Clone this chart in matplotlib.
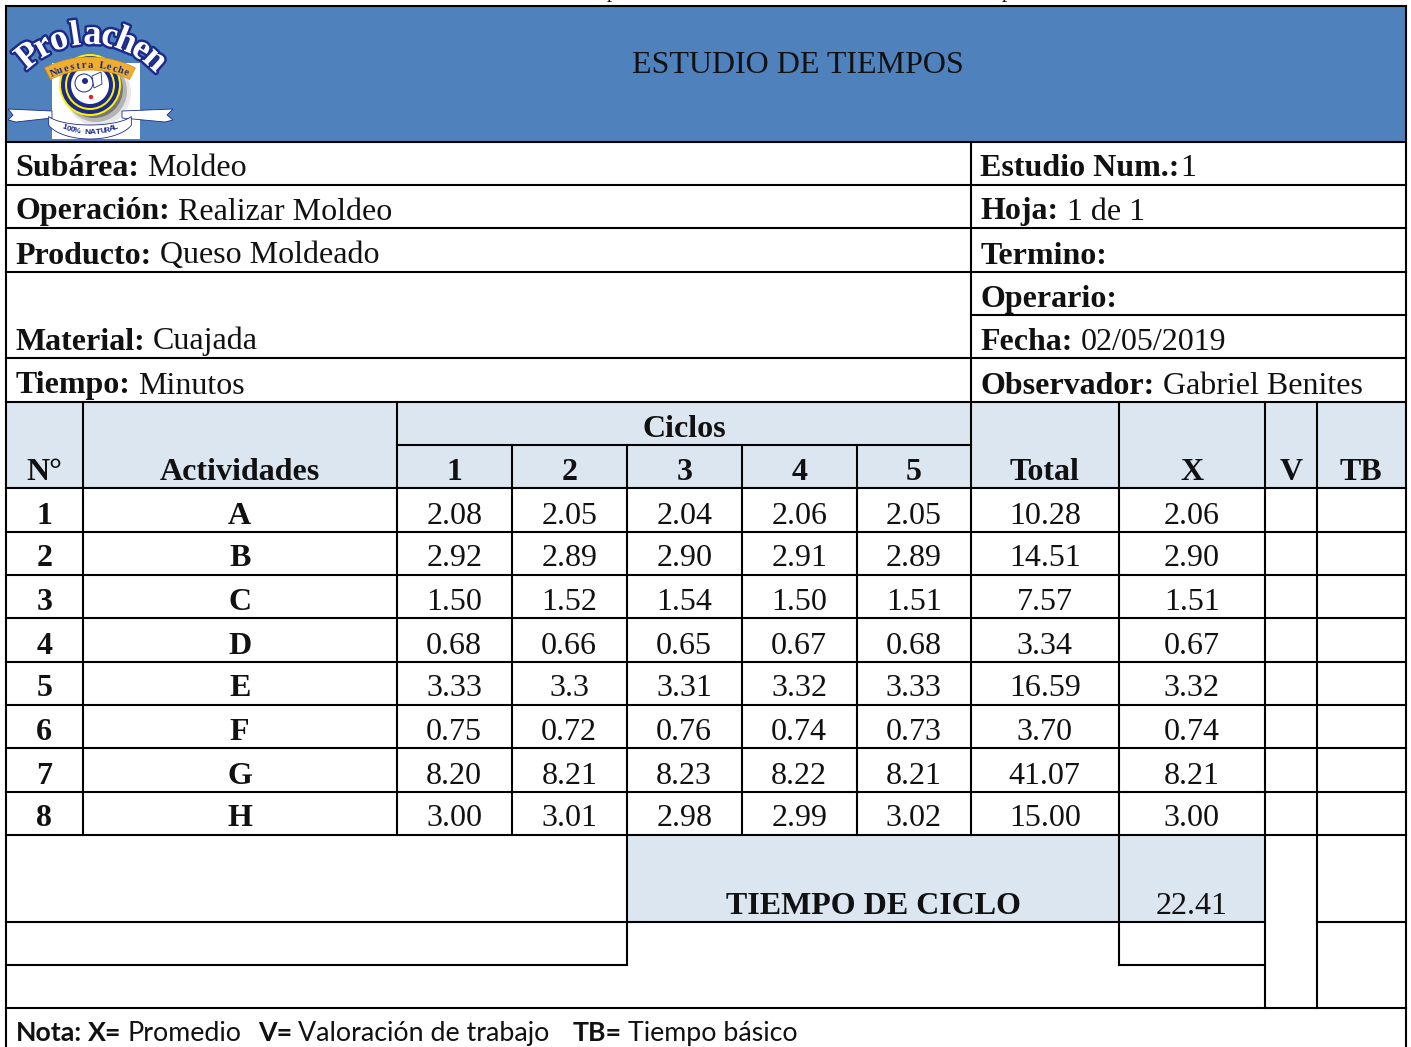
# import
import matplotlib
matplotlib.use('Agg')
import matplotlib.pyplot as plt
import matplotlib.patheffects as pe
from matplotlib.patches import Rectangle, Circle, Polygon
import numpy as np

# data
left_info = [('Subárea:', 'Moldeo'), ('Operación:', 'Realizar Moldeo'),
             ('Producto:', 'Queso Moldeado'), ('', ''),
             ('Material:', 'Cuajada'), ('Tiempo:', 'Minutos')]
right_info = [('Estudio Num.:', '1'), ('Hoja:', '1 de 1'), ('Termino:', ''),
              ('Operario:', ''), ('Fecha:', '02/05/2019'),
              ('Observador:', 'Gabriel Benites')]
row_no = ['1', '2', '3', '4', '5', '6', '7', '8']
activities = ['A', 'B', 'C', 'D', 'E', 'F', 'G', 'H']
cycle_1 = ['2.08', '2.92', '1.50', '0.68', '3.33', '0.75', '8.20', '3.00']
cycle_2 = ['2.05', '2.89', '1.52', '0.66', '3.3', '0.72', '8.21', '3.01']
cycle_3 = ['2.04', '2.90', '1.54', '0.65', '3.31', '0.76', '8.23', '2.98']
cycle_4 = ['2.06', '2.91', '1.50', '0.67', '3.32', '0.74', '8.22', '2.99']
cycle_5 = ['2.05', '2.89', '1.51', '0.68', '3.33', '0.73', '8.21', '3.02']
totals = ['10.28', '14.51', '7.57', '3.34', '16.59', '3.70', '41.07', '15.00']
means = ['2.06', '2.90', '1.51', '0.67', '3.32', '0.74', '8.21', '3.00']
cycle_time = '22.41'

# layout in pixels
W, H = 1411, 1047
col_x = [6, 83, 397, 512, 627, 742, 857, 971, 1119, 1265, 1317, 1406]
row_y = [142, 185, 228, 272, 315, 358, 402, 445, 488, 532, 575, 618, 662,
         705, 748, 792, 835, 922, 965, 1008]
BLUE = '#4F81BD'
LIGHT = '#DCE6F1'
NAVY = '#1B2A8C'
SERIF = 'Liberation Serif'
FS = 23


def center(i):
    return (col_x[i] + col_x[i+1]) / 2 - 0.3


def put(ax, x, y, s, bold=False, ha='center', size=FS, family=SERIF):
    return ax.text(x, y, s, ha=ha, va='baseline', fontsize=size, family=family,
                   fontweight='bold' if bold else 'normal', color='#111111')


def put_mixed(ax, x, y, parts, size=FS, family=SERIF, gap=8):
    # parts = [(text, bold)], laid out one after the other
    renderer = ax.figure.canvas.get_renderer()
    for s, bold in parts:
        if not s:
            continue
        t = put(ax, x, y, s, bold=bold, ha='left', size=size, family=family)
        x = t.get_window_extent(renderer).x1 + gap


def draw_logo(ax):
    ax.add_patch(Rectangle((52, 63), 88, 76, fc='white', ec='none', zorder=2))
    # ring and its shadow
    for r, off, col in [(33, 8, '#E8E8E8'), (31, 6, '#B5B5B5'), (29, 4, '#777777')]:
        ax.add_patch(Circle((90+off, 85+off), r, fc=col, ec='none', zorder=2))
    for r, col in [(31, '#FFF200'), (29, NAVY), (25, '#FFF200'), (23, NAVY), (19, 'white')]:
        ax.add_patch(Circle((90, 85), r, fc=col, ec='none', zorder=3))
    ax.add_patch(Circle((84, 83), 9, fc='white', ec=NAVY, lw=0.7, zorder=3))
    ax.add_patch(Circle((85, 81), 3, fc=NAVY, ec='none', zorder=3))
    ax.add_patch(Polygon([(92, 76), (101, 72), (102, 84), (94, 88)], fc='white',
                         ec=NAVY, lw=0.6, zorder=3))
    ax.add_patch(Circle((91, 97), 2.2, fc='#E8202A', ec='none', zorder=3))
    # orange band
    a = np.radians(np.linspace(-117, -63, 40))
    ox, oy = 90 + 100*np.cos(a), 157 + 100*np.sin(a)
    ix, iy = 90 + 87*np.cos(a), 157 + 87*np.sin(a)
    ax.add_patch(Polygon(np.c_[np.r_[ox, ix[::-1]], np.r_[oy, iy[::-1]]],
                         fc='#EFAE2E', ec='#C98F1C', lw=0.5, zorder=4))
    for s, ang in zip('Nuestra Leche', np.linspace(-113, -67, 13)):
        r = np.radians(ang)
        ax.text(90 + 89*np.cos(r), 157 + 89*np.sin(r), s, fontsize=7.5, family=SERIF,
                fontweight='bold', color=NAVY, ha='center', va='baseline',
                rotation=-ang-90, rotation_mode='anchor', zorder=5)
    # brand name on an arc
    for s, ang in zip('Prolachen', np.linspace(-129, -48, 9)):
        r = np.radians(ang)
        ax.text(90 + 88*np.cos(r), 132 + 88*np.sin(r), s, fontsize=26, family=SERIF,
                fontweight='bold', color='white', ha='center', va='baseline',
                rotation=-ang-90, rotation_mode='anchor', zorder=6,
                path_effects=[pe.withStroke(linewidth=3.5, foreground=NAVY)])
    # ribbon
    rib_l = [(8, 109), (52, 111), (52, 118), (16, 122), (8, 120), (13, 115)]
    rib_r = [(122, 111), (173, 109), (167, 115), (173, 120), (165, 122), (122, 118)]
    for pts in (rib_l, rib_r):
        ax.add_patch(Polygon(pts, fc='white', ec=NAVY, lw=0.6, zorder=4))
    a = np.radians(np.linspace(20, 160, 40))
    ox, oy = 90 + 44*np.cos(a), 118 + 21*np.sin(a)
    ix, iy = 90 + 44*np.cos(a), 112 + 13*np.sin(a)
    ax.add_patch(Polygon(np.c_[np.r_[ox, ix[::-1]], np.r_[oy, iy[::-1]]],
                         fc='white', ec=NAVY, lw=0.6, zorder=4))
    for s, ang in zip('100% NATURAL', np.linspace(140, 40, 12)):
        r = np.radians(ang)
        ax.text(90 + 34*np.cos(r), 120 + 14*np.sin(r), s, fontsize=6, family='Liberation Sans',
                fontweight='bold', color=NAVY, ha='center', va='baseline',
                rotation=(90-ang)*0.4, rotation_mode='anchor', zorder=5)


def draw_grid(ax):
    x, y = col_x, row_y
    hlines = [(y[i], x[0], x[-1]) for i in (0, 1, 2, 3, 5, 6)]
    hlines += [(6, x[0], x[-1]), (y[4], x[7], x[-1]), (y[7], x[2], x[7])]
    hlines += [(y[i], x[0], x[-1]) for i in range(8, 17)]
    hlines += [(y[17], x[0], x[9]), (y[17], x[10], x[-1]), (y[18], x[0], x[4]),
               (y[18], x[8], x[9]), (y[19], x[0], x[-1])]
    vlines = [(x[0], 6, H), (x[-1], 6, H), (x[7], y[0], y[16]), (x[1], y[6], y[16]),
              (x[2], y[6], y[16]), (x[3], y[7], y[16]), (x[4], y[7], y[18]),
              (x[5], y[7], y[16]), (x[6], y[7], y[16]), (x[8], y[6], y[18]),
              (x[9], y[6], y[19]), (x[10], y[6], y[19])]
    for yy, x0, x1 in hlines:
        ax.plot([x0, x1], [yy, yy], color='black', lw=1.5, solid_capstyle='projecting', zorder=7)
    for xx, y0, y1 in vlines:
        ax.plot([xx, xx], [y0, y1], color='black', lw=1.5, solid_capstyle='projecting', zorder=7)


if __name__ == '__main__':
    fig = plt.figure(figsize=(W/100, H/100), dpi=100)
    ax = fig.add_axes([0, 0, 1, 1])
    ax.set_xlim(0, W)
    ax.set_ylim(H, 0)
    ax.axis('off')
    fig.canvas.draw()

    # fills
    ax.add_patch(Rectangle((6, 6), 1400, 136, fc=BLUE, ec='none', zorder=1))
    ax.add_patch(Rectangle((6, 402), 1400, 86, fc=LIGHT, ec='none', zorder=1))
    ax.add_patch(Rectangle((627, 835), 638, 87, fc=LIGHT, ec='none', zorder=1))

    # clipped line of text above the table
    put(ax, 612, -3, 'p', size=15)
    put(ax, 1007, -3, 'p', size=15)

    draw_logo(ax)
    put(ax, 798, 73, 'ESTUDIO DE TIEMPOS', size=FS)

    # study information
    for i, (label, value) in enumerate(left_info):
        put_mixed(ax, 15.5, row_y[i+1] - 8.5, [(label, True), (value, False)])
    for i, (label, value) in enumerate(right_info):
        put_mixed(ax, 980.5, row_y[i+1] - 8.5, [(label, True), (value, False)],
                  gap=0 if label.startswith('Estudio') else 8)

    # header
    base = row_y[8] - 8
    put(ax, 684, row_y[7] - 8, 'Ciclos', bold=True)
    headers = ['N°', 'Actividades', '1', '2', '3', '4', '5', '', 'Total', 'X', 'V', 'TB']
    header_cols = [0, 1, 2, 3, 4, 5, 6, 6, 7, 8, 9, 10]
    for h, c in zip(headers, header_cols):
        if h:
            put(ax, center(c), base, h, bold=True)

    # body
    columns = [cycle_1, cycle_2, cycle_3, cycle_4, cycle_5, totals, means]
    for r in range(len(row_no)):
        base = row_y[9+r] - 8.5
        put(ax, center(0), base, row_no[r], bold=True)
        put(ax, center(1), base, activities[r], bold=True)
        for c, values in enumerate(columns):
            put(ax, center(c+2), base, values[r])

    # cycle time
    put(ax, 873, row_y[17] - 8, 'TIEMPO DE CICLO', bold=True)
    put(ax, center(8), row_y[17] - 8.5, cycle_time)

    # note
    put_mixed(ax, 16, 1041, [('Nota:', True), ('X=', True), ('Promedio', False)],
              size=19.3, family='Lato', gap=6)
    put_mixed(ax, 258, 1041, [('V=', True), ('Valoración de trabajo', False)],
              size=19.3, family='Lato', gap=6)
    put_mixed(ax, 573, 1041, [('TB=', True), ('Tiempo básico', False)],
              size=19.3, family='Lato', gap=6)

    draw_grid(ax)
    fig.savefig('out.png', dpi=100)
    plt.close(fig)
